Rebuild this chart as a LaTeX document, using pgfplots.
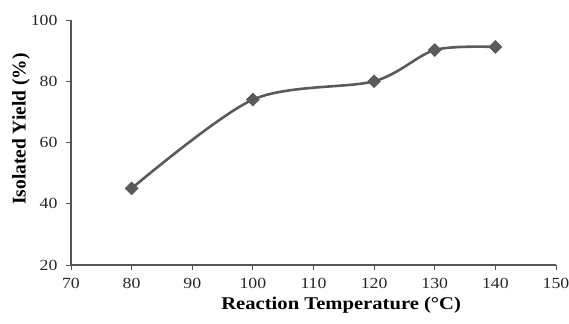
\documentclass[border=0pt]{standalone}
\usepackage{pgfplots}
\pgfplotsset{compat=1.18}
\usepackage{fontspec}
\setmainfont{Liberation Serif}
\newfontfamily\widefont[FakeStretch=1.15]{Liberation Serif}
\definecolor{linegray}{HTML}{5A5A5A}
\definecolor{axgray}{HTML}{555555}
\begin{document}
\begin{tikzpicture}
\begin{axis}[
  scale only axis, width=485bp, height=245bp,
  xmin=70, xmax=150, ymin=20, ymax=100,
  xtick={70,80,...,150}, ytick={20,40,...,100},
  axis x line=bottom, axis y line=left,
  axis line style={-, line width=1.3pt, color=axgray},
  tick style={color=axgray, line width=0.9pt},
  tick align=outside, major tick length=5bp,
  /pgf/number format/assume math mode=true,
  ticklabel style={font=\widefont\fontsize{15.5}{17}\selectfont, text=black!85},
  yticklabel style={xshift=-5bp},
  xticklabel style={yshift=-5bp},
  xlabel={\widefont\bfseries\fontsize{18}{20}\selectfont Reaction Temperature (°C)},
  ylabel={\bfseries\fontsize{19.5}{21}\selectfont Isolated Yield (\%)},
  xlabel style={at={(axis description cs:0.557,0)}, anchor=center, yshift=-40bp},
  ylabel style={at={(axis description cs:-0.103,0.555)}, anchor=center},
]
\addplot[smooth, color=linegray, line width=2.6pt, mark=square*, mark size=4.6bp,
  mark options={rotate=45, fill=linegray, line width=0.5pt}]
  coordinates {(80,45) (100,74) (120,80) (130,90.2) (140,91.2)};
\coordinate (sw) at (rel axis cs:0,0);
\coordinate (ne) at (rel axis cs:1,1);
\end{axis}
\pgfresetboundingbox
\path ([shift={(-71bp,-59bp)}]sw) rectangle ([shift={(13bp,20bp)}]ne);
\end{tikzpicture}
\end{document}
